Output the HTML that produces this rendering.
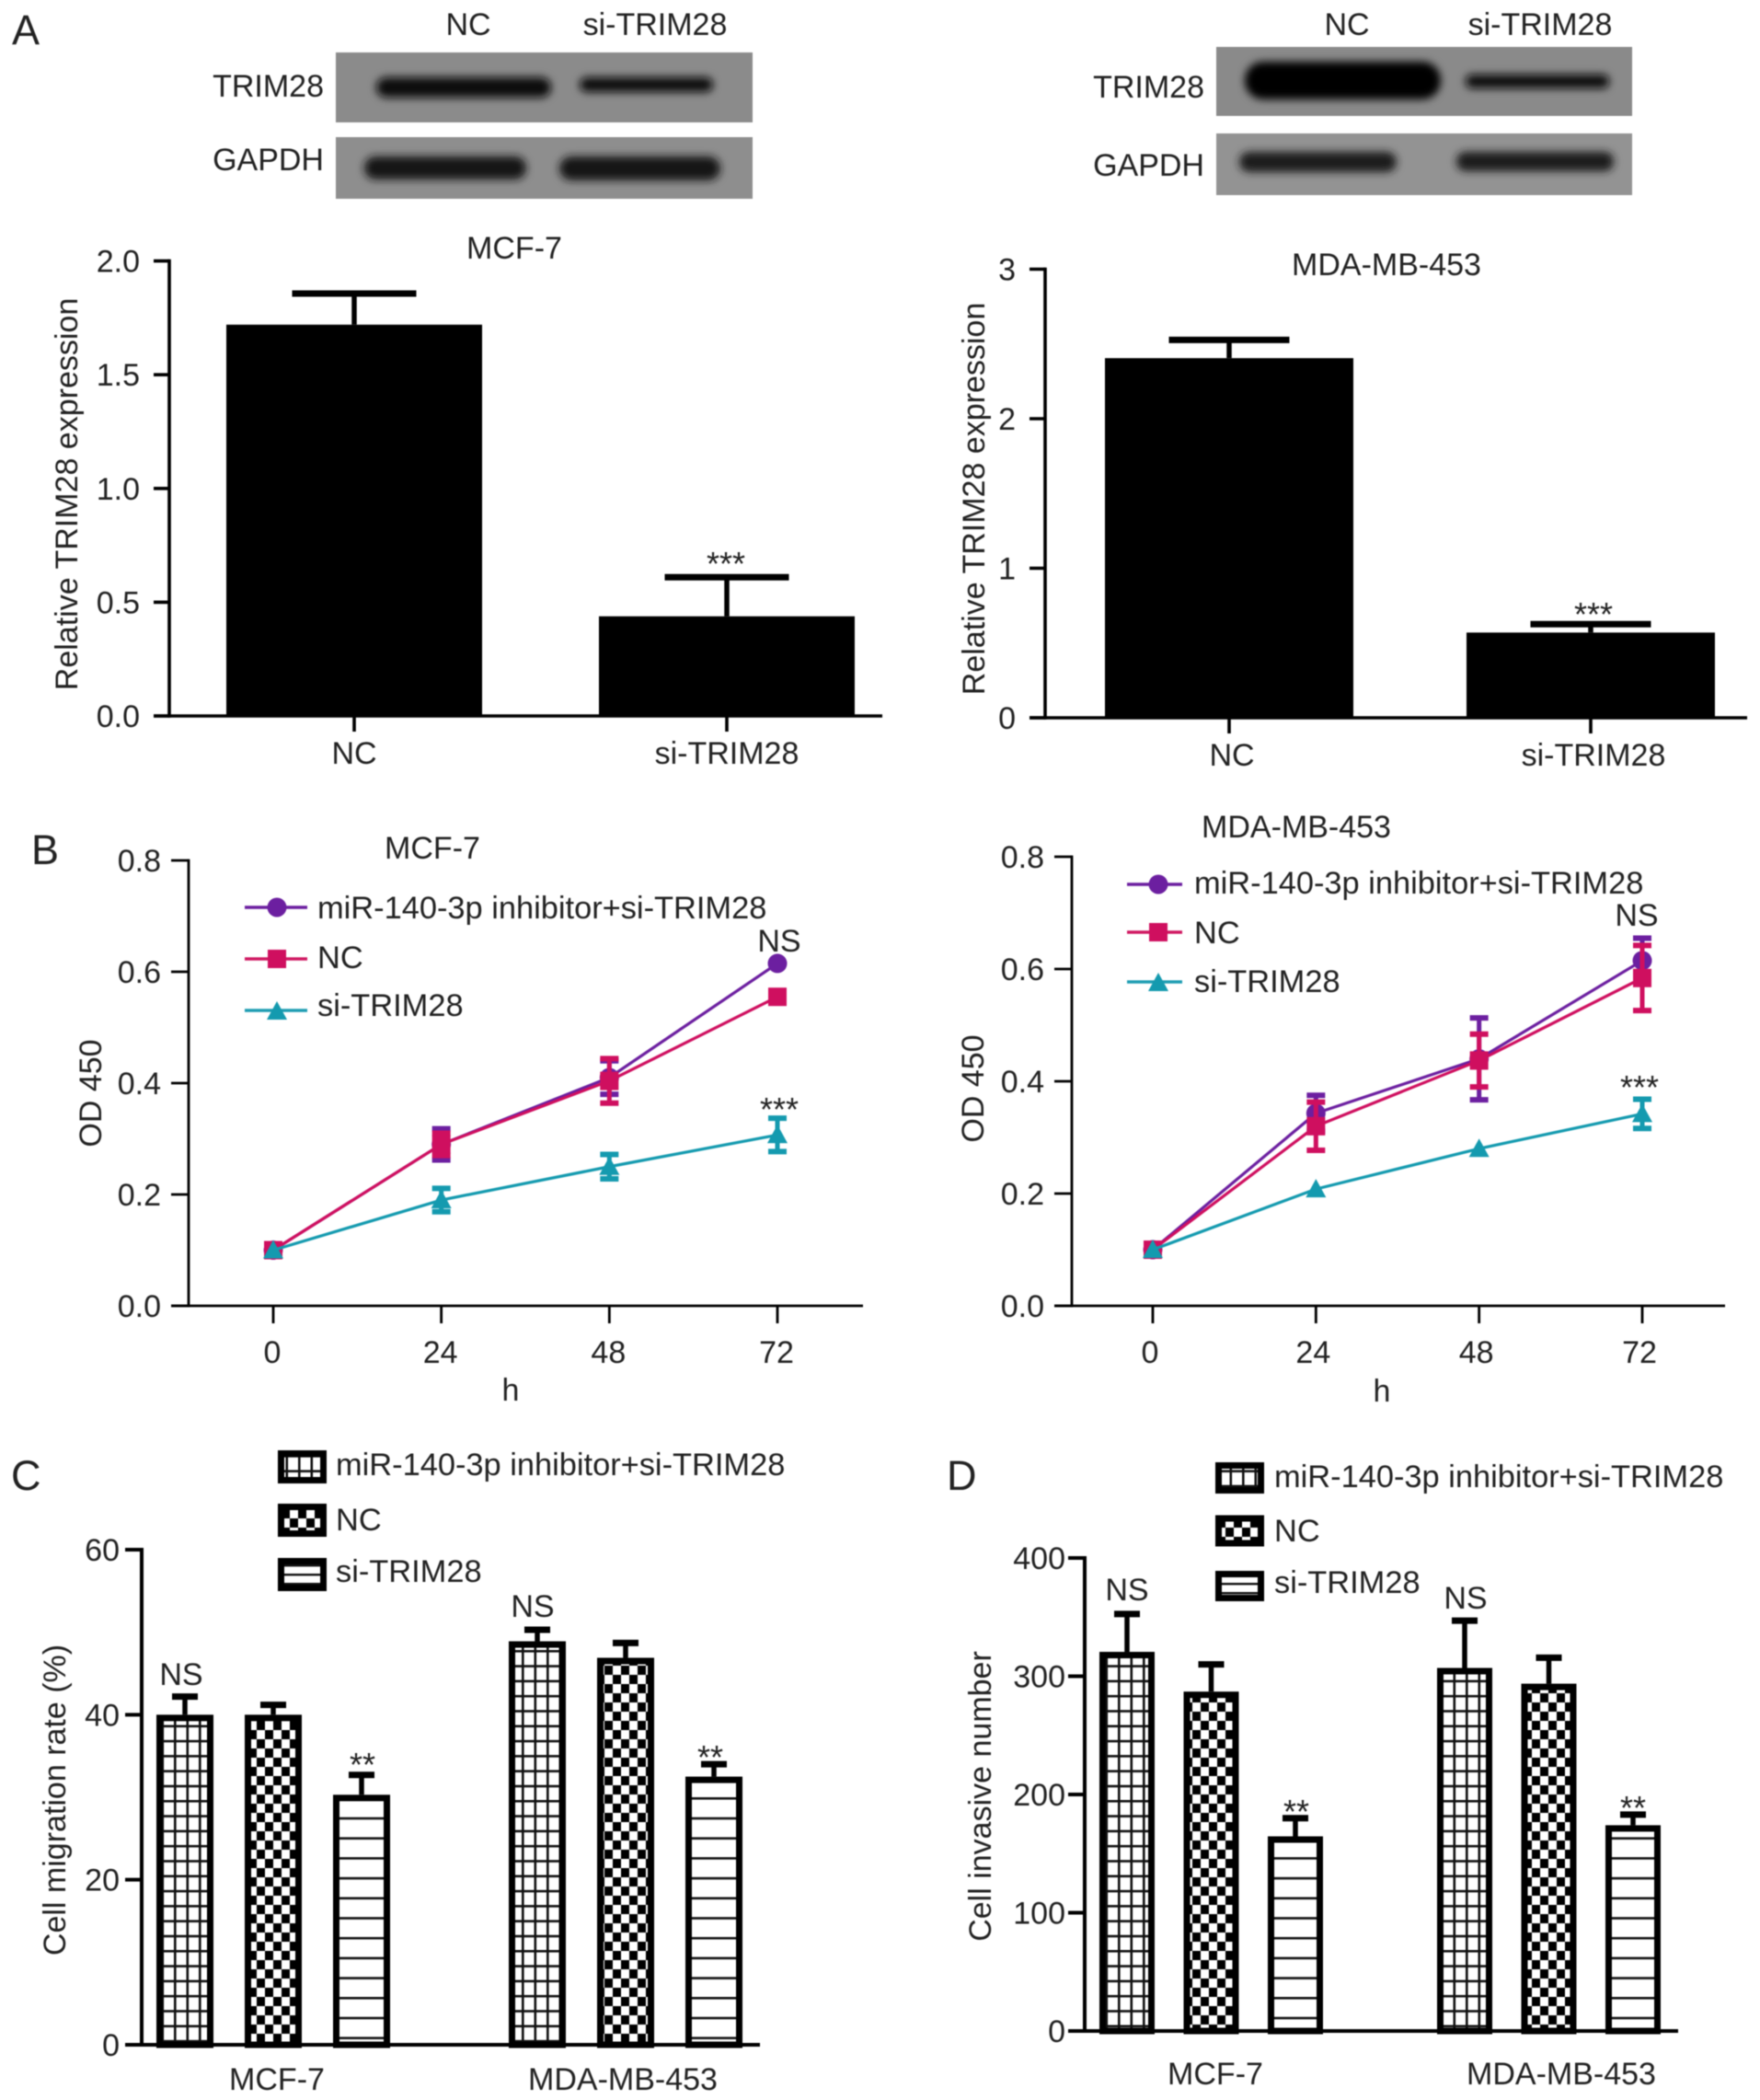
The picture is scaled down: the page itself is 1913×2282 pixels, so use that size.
<!DOCTYPE html>
<html lang="en">
<head>
<meta charset="utf-8">
<title>TRIM28 knockdown figure</title>
<style>
html,body{margin:0;padding:0;background:#fff;}
#figure{display:block;width:1913px;height:2282px;filter:blur(.5px);}
text{font-family:"Liberation Sans",sans-serif;font-size:34px;fill:#222;}
.lt{font-size:45px;}
.lg{font-size:34.4px;}
</style>
</head>
<body>
<svg id="figure" xmlns="http://www.w3.org/2000/svg" width="1913" height="2282" viewBox="0 0 1913 2282">
<defs>
<filter id="bandBlur" x="-20%" y="-80%" width="140%" height="260%"><feGaussianBlur stdDeviation="4.5"/></filter>
<pattern id="hatchGrid" patternUnits="userSpaceOnUse" width="13.5" height="16.3"><rect width="13.5" height="16.3" fill="#fff"/><rect x="0" width="2.6" height="16.3" fill="#111"/><rect y="0" width="13.5" height="2.6" fill="#111"/></pattern>
<pattern id="hatchCheck" patternUnits="userSpaceOnUse" width="18" height="20"><rect width="18" height="20" fill="#fff"/><rect width="9" height="10" fill="#000"/><rect x="9" y="10" width="9" height="10" fill="#000"/></pattern>
<pattern id="hatchLines" patternUnits="userSpaceOnUse" width="20" height="21.7"><rect width="20" height="21.7" fill="#fff"/><rect y="0" width="20" height="2.6" fill="#111"/></pattern>
<pattern id="hatchLinesLegend" patternUnits="userSpaceOnUse" width="20" height="10"><rect width="20" height="10" fill="#fff"/><rect y="0" width="20" height="2.4" fill="#111"/></pattern>
</defs>
<rect width="1913" height="2282" fill="#fff"/>

<!-- Panel letters -->
<text class="lt" x="13" y="48">A</text>
<text class="lt" x="34" y="939">B</text>
<text class="lt" x="12" y="1619">C</text>
<text class="lt" x="1029" y="1619">D</text>

<!-- Western blots -->
<g>
<text x="509" y="38" text-anchor="middle">NC</text>
<text x="712" y="38" text-anchor="middle">si-TRIM28</text>
<text x="352" y="105" text-anchor="end">TRIM28</text>
<text x="352" y="185" text-anchor="end">GAPDH</text>
<rect x="365" y="57" width="453" height="76" fill="#8b8b8b"/>
<rect x="365" y="149" width="453" height="67" fill="#8e8e8e"/>
<rect x="409" y="84" width="190" height="22" rx="11" fill="#080808" filter="url(#bandBlur)"/>
<rect x="630" y="84" width="145" height="16" rx="8" fill="#0a0a0a" filter="url(#bandBlur)"/>
<rect x="396" y="170" width="176" height="25" rx="12" fill="#181818" filter="url(#bandBlur)"/>
<rect x="608" y="170" width="175" height="26" rx="13" fill="#181818" filter="url(#bandBlur)"/>
</g>
<g>
<text x="1464" y="38" text-anchor="middle">NC</text>
<text x="1674" y="38" text-anchor="middle">si-TRIM28</text>
<text x="1309" y="106" text-anchor="end">TRIM28</text>
<text x="1309" y="191" text-anchor="end">GAPDH</text>
<rect x="1322" y="51" width="452" height="75" fill="#8a8a8a"/>
<rect x="1322" y="145" width="452" height="67" fill="#939393"/>
<rect x="1353" y="67" width="213" height="41" rx="20" fill="#050505" filter="url(#bandBlur)"/>
<rect x="1593" y="81" width="156" height="15" rx="7" fill="#101010" filter="url(#bandBlur)"/>
<rect x="1347" y="165" width="171" height="22" rx="11" fill="#1c1c1c" filter="url(#bandBlur)"/>
<rect x="1583" y="165" width="171" height="21" rx="10" fill="#1c1c1c" filter="url(#bandBlur)"/>
</g>

<!-- Panel A static text -->
<text x="559" y="281" text-anchor="middle">MCF-7</text>
<text transform="translate(84 537) rotate(-90)" text-anchor="middle">Relative TRIM28 expression</text>
<text x="789" y="625" text-anchor="middle" style="font-size:36px">***</text>
<text x="1507" y="299" text-anchor="middle">MDA-MB-453</text>
<text transform="translate(1070 542) rotate(-90)" text-anchor="middle">Relative TRIM28 expression</text>
<text x="1732" y="680" text-anchor="middle" style="font-size:36px">***</text>

<!-- Panel B static text -->
<text x="470" y="933" text-anchor="middle">MCF-7</text>
<text transform="translate(110 1188) rotate(-90)" text-anchor="middle">OD 450</text>
<text x="555" y="1522" text-anchor="middle">h</text>
<text x="847" y="1034" text-anchor="middle">NS</text>
<text x="847" y="1218" text-anchor="middle" style="font-size:36px">***</text>
<g transform="translate(-1 -6)">
<line x1="267" x2="335" y1="992" y2="992" stroke="#6c1fa0" stroke-width="3.5"/>
<circle cx="302" cy="992" r="10.5" fill="#6c1fa0"/>
<text class="lg" x="346" y="1004">miR-140-3p inhibitor+si-TRIM28</text>
<line x1="267" x2="335" y1="1048" y2="1048" stroke="#d01a62" stroke-width="3.5"/>
<rect x="292" y="1038" width="20" height="20" fill="#cf0f5f"/>
<text class="lg" x="346" y="1058">NC</text>
<line x1="267" x2="335" y1="1104" y2="1104" stroke="#1f9db3" stroke-width="3.5"/>
<polygon points="302,1094 313,1114 291,1114" fill="#149aaf"/>
<text class="lg" x="346" y="1110">si-TRIM28</text>
</g>

<text x="1409" y="910" text-anchor="middle">MDA-MB-453</text>
<text transform="translate(1069 1183) rotate(-90)" text-anchor="middle">OD 450</text>
<text x="1502" y="1523" text-anchor="middle">h</text>
<text x="1779" y="1006" text-anchor="middle">NS</text>
<text x="1782" y="1194" text-anchor="middle" style="font-size:36px">***</text>
<g transform="translate(-6 -6)">
<line x1="1231" x2="1291" y1="967" y2="967" stroke="#6c1fa0" stroke-width="3.5"/>
<circle cx="1265" cy="967" r="10.5" fill="#6c1fa0"/>
<text class="lg" x="1304" y="977">miR-140-3p inhibitor+si-TRIM28</text>
<line x1="1231" x2="1291" y1="1019" y2="1019" stroke="#d01a62" stroke-width="3.5"/>
<rect x="1255" y="1009" width="20" height="20" fill="#cf0f5f"/>
<text class="lg" x="1304" y="1031">NC</text>
<line x1="1231" x2="1291" y1="1073" y2="1073" stroke="#1f9db3" stroke-width="3.5"/>
<polygon points="1265,1063 1276,1083 1254,1083" fill="#149aaf"/>
<text class="lg" x="1304" y="1084">si-TRIM28</text>
</g>

<!-- Panel C static text -->
<text transform="translate(71 1956) rotate(-90)" text-anchor="middle">Cell migration rate (%)</text>
<text x="197" y="1831" text-anchor="middle">NS</text>
<text x="579" y="1757" text-anchor="middle">NS</text>
<text x="394" y="1930" text-anchor="middle" style="font-size:36px">**</text>
<text x="772" y="1922" text-anchor="middle" style="font-size:36px">**</text>
<g>
<rect x="305.5" y="1579.5" width="46" height="29" fill="url(#hatchGrid)" stroke="#000" stroke-width="7"/>
<text class="lg" x="365" y="1603">miR-140-3p inhibitor+si-TRIM28</text>
<rect x="305.5" y="1637.5" width="46" height="29" fill="url(#hatchCheck)" stroke="#000" stroke-width="7"/>
<text class="lg" x="365" y="1663">NC</text>
<rect x="305.5" y="1696.5" width="46" height="29" fill="url(#hatchLinesLegend)" stroke="#000" stroke-width="7"/>
<text class="lg" x="365" y="1719">si-TRIM28</text>
</g>

<!-- Panel D static text -->
<text transform="translate(1077 1952) rotate(-90)" text-anchor="middle">Cell invasive number</text>
<text x="1225" y="1739" text-anchor="middle">NS</text>
<text x="1593" y="1748" text-anchor="middle">NS</text>
<text x="1409" y="1981" text-anchor="middle" style="font-size:36px">**</text>
<text x="1775" y="1977" text-anchor="middle" style="font-size:36px">**</text>
<g>
<rect x="1324.5" y="1592.5" width="46" height="27" fill="url(#hatchGrid)" stroke="#000" stroke-width="7"/>
<text class="lg" x="1385" y="1616">miR-140-3p inhibitor+si-TRIM28</text>
<rect x="1324.5" y="1650" width="46" height="27" fill="url(#hatchCheck)" stroke="#000" stroke-width="7"/>
<text class="lg" x="1385" y="1675">NC</text>
<rect x="1324.5" y="1710.5" width="46" height="26" fill="url(#hatchLinesLegend)" stroke="#000" stroke-width="7"/>
<text class="lg" x="1385" y="1731">si-TRIM28</text>
</g>
</svg>

<script>
// ---- Panel A data ----
const aCategories = ['NC', 'si-TRIM28'];
const aLeftValues = [1.72, 0.438];
const aLeftErrors = [0.137, 0.172];
const aLeftTicks = ['0.0', '0.5', '1.0', '1.5', '2.0'];
const aRightValues = [2.405, 0.57];
const aRightErrors = [0.122, 0.056];
const aRightTicks = ['0', '1', '2', '3'];

// ---- Panel B data ----
const bHours = [0, 24, 48, 72];
const bTicks = ['0.0', '0.2', '0.4', '0.6', '0.8'];
const bLeftInhibitor = [0.1, 0.29, 0.41, 0.615];
const bLeftInhibitorErr = [0, 0.028, 0.03, 0];
const bLeftNC = [0.1, 0.29, 0.404, 0.555];
const bLeftNCErr = [0, 0.02, 0.04, 0];
const bLeftSi = [0.1, 0.19, 0.25, 0.307];
const bLeftSiErr = [0, 0.021, 0.022, 0.03];
const bRightInhibitor = [0.1, 0.343, 0.44, 0.615];
const bRightInhibitorErr = [0, 0.032, 0.073, 0.04];
const bRightNC = [0.1, 0.32, 0.437, 0.584];
const bRightNCErr = [0, 0.043, 0.047, 0.058];
const bRightSi = [0.1, 0.208, 0.28, 0.342];
const bRightSiErr = [0, 0, 0, 0.026];

// ---- Panel C data ----
const groupCategories = ['MCF-7', 'MDA-MB-453'];
const cTicks = ['0', '20', '40', '60'];
const cInhibitor = [40, 48.9];
const cInhibitorErr = [2.2, 1.4];
const cNC = [40, 46.9];
const cNCErr = [1.2, 1.8];
const cSi = [30.3, 32.5];
const cSiErr = [2.4, 1.5];

// ---- Panel D data ----
const dTicks = ['0', '100', '200', '300', '400'];
const dInhibitor = [320.6, 307];
const dInhibitorErr = [32, 40];
const dNC = [287, 293.7];
const dNCErr = [23, 22];
const dSi = [164.6, 174];
const dSiErr = [15.4, 9];

const SVGNS = 'http://www.w3.org/2000/svg';
const root = document.getElementById('figure');

function mk(tag, attrs, parent) {
  const el = document.createElementNS(SVGNS, tag);
  for (const k in attrs) el.setAttribute(k, attrs[k]);
  (parent || root).appendChild(el);
  return el;
}
function linear(d0, d1, r0, r1) {
  return v => r0 + (v - d0) * (r1 - r0) / (d1 - d0);
}
function drawLine(parent, name, x1, y1, x2, y2, color, width) {
  const l = mk('line', {x1, y1, x2, y2, stroke: color, 'stroke-width': width}, parent);
  
  
  return l;
}
function drawText(parent, name, x, y, str, anchor) {
  const t = mk('text', {x, y, 'text-anchor': anchor}, parent);
  t.textContent = str;
  
  
  return t;
}
function drawAxes(parent, prefix, o) {
  drawLine(parent, prefix + '-y-axis', o.x, o.yTop - o.sw / 2, o.x, o.yBottom + o.sw / 2, '#000', o.sw);
  drawLine(parent, prefix + '-x-axis', o.xFrom, o.yBottom, o.xTo, o.yBottom, '#000', o.sw);
  o.ticks.forEach(label => {
    const y = o.y(parseFloat(label));
    drawLine(parent, prefix + '-y-tick-' + label, o.x - o.tick, y, o.x, y, '#000', o.sw);
    drawText(parent, prefix + '-y-tick-label-' + label, o.x - o.tick - o.pad, y + 12, label, 'end');
  });
}
function drawErrorBar(parent, name, x, yFrom, yTo, capW, color, sw, capH) {
  drawLine(parent, name + '-stem', x, yFrom, x, yTo, color, sw);
  drawLine(parent, name + '-cap', x - capW / 2, yTo, x + capW / 2, yTo, color, capH);
}

// ---- Panel A: solid bars ----
function drawSolidBars(prefix, values, errors, ticks, o) {
  const g = mk('g', {});
  
  
  const y = linear(0, o.max, o.yBottom, o.yTop);
  drawAxes(g, prefix, {x: o.x, yTop: o.yTop, yBottom: o.yBottom, xFrom: o.xFrom, xTo: o.xTo, sw: 3.6, tick: 17, pad: 15, ticks, y});
  const cx = i => o.c0 + i * o.step;
  aCategories.forEach((cat, i) => {
    const r = mk('rect', {x: cx(i) - o.w / 2, y: y(values[i]), width: o.w, height: o.yBottom - y(values[i]), fill: '#000'}, g);
    
    
    drawErrorBar(g, prefix + '-error-' + cat, cx(i), y(values[i]), y(values[i] + errors[i]), o.cap, '#000', 5.5, 7);
    drawLine(g, prefix + '-x-tick-' + cat, cx(i), o.yBottom, cx(i), o.yBottom + 17, '#000', 3.6);
    drawText(g, prefix + '-x-label-' + cat, cx(i) + o.labelDx, o.labelY, cat, 'middle');
  });
}
drawSolidBars('a-left', aLeftValues, aLeftErrors, aLeftTicks, {max: 2, yBottom: 778, yTop: 283.6, x: 184, xFrom: 167, xTo: 959, c0: 385, step: 405, w: 278, cap: 135, labelY: 830, labelDx: 0});
drawSolidBars('a-right', aRightValues, aRightErrors, aRightTicks, {max: 3, yBottom: 780, yTop: 292.5, x: 1136, xFrom: 1119, xTo: 1899, c0: 1336, step: 393, w: 270, cap: 131, labelY: 832, labelDx: 3});

// ---- Panel B: line charts ----
function drawSeries(g, prefix, name, vals, errs, x, y, color, markerType) {
  errs.forEach((e, i) => {
    if (e > 0) {
      const px = x(bHours[i]);
      drawErrorBar(g, prefix + '-' + name + '-error-up-' + bHours[i], px, y(vals[i]), y(vals[i] + e), 20, color, 5, 6);
      drawErrorBar(g, prefix + '-' + name + '-error-down-' + bHours[i], px, y(vals[i]), y(vals[i] - e), 20, color, 5, 6);
    }
  });
  const line = mk('polyline', {points: vals.map((v, i) => x(bHours[i]) + ',' + y(v)).join(' '), fill: 'none', stroke: color, 'stroke-width': 3.2}, g);
  
  
  vals.forEach((v, i) => {
    const px = x(bHours[i]), py = y(v);
    let m;
    if (markerType === 'circle') m = mk('circle', {cx: px, cy: py, r: 10.5, fill: color}, g);
    if (markerType === 'square') m = mk('rect', {x: px - 10, y: py - 10, width: 20, height: 20, fill: color}, g);
    if (markerType === 'triangle') m = mk('polygon', {points: [px + ',' + (py - 11), (px + 11) + ',' + (py + 9), (px - 11) + ',' + (py + 9)].join(' '), fill: color}, g);
    
    
  });
}
function drawLineChart(prefix, series, o) {
  const g = mk('g', {});
  
  
  const y = linear(0, 0.8, o.yBottom, o.yTop);
  const x = linear(0, 72, o.x0, o.x72);
  drawAxes(g, prefix, {x: o.x, yTop: o.yTop, yBottom: o.yBottom, xFrom: o.xFrom, xTo: o.xTo, sw: 2.8, tick: 19, pad: 11, ticks: bTicks, y});
  bHours.forEach(h => {
    drawLine(g, prefix + '-x-tick-' + h, x(h), o.yBottom, x(h), o.yBottom + 19, '#000', 2.8);
    drawText(g, prefix + '-x-label-' + h, x(h) + o.labelDx, o.labelY, String(h), 'middle');
  });
  drawSeries(g, prefix, 'inhibitor', series[0], series[1], x, y, '#6c1fa0', 'circle');
  drawSeries(g, prefix, 'nc', series[2], series[3], x, y, '#cf0f5f', 'square');
  drawSeries(g, prefix, 'si', series[4], series[5], x, y, '#149aaf', 'triangle');
}
drawLineChart('b-left', [bLeftInhibitor, bLeftInhibitorErr, bLeftNC, bLeftNCErr, bLeftSi, bLeftSiErr], {yBottom: 1419, yTop: 935, x: 205, xFrom: 186, xTo: 938, x0: 297, x72: 845, labelY: 1481, labelDx: -1});
drawLineChart('b-right', [bRightInhibitor, bRightInhibitorErr, bRightNC, bRightNCErr, bRightSi, bRightSiErr], {yBottom: 1419, yTop: 931, x: 1165, xFrom: 1146, xTo: 1875, x0: 1253, x72: 1785, labelY: 1481, labelDx: -3});

// ---- Panels C and D: hatched grouped bars ----
function drawGrouped(prefix, series, ticks, o) {
  const g = mk('g', {});
  
  
  const y = linear(0, o.max, o.yBottom, o.yTop);
  const hatch = ['hatchGrid', 'hatchCheck', 'hatchLines'];
  const names = ['inhibitor', 'nc', 'si'];
  series.forEach((s, si) => {
    groupCategories.forEach((cat, gi) => {
      const px = o.left + gi * o.groupStep + si * o.barStep;
      const v = s.values[gi];
      const e = s.errors[gi];
      drawErrorBar(g, prefix + '-error-' + names[si] + '-' + cat, px + o.w / 2, y(v), y(v + e), 28, '#000', 5.5, 7);
      const r = mk('rect', {x: px + 3.5, y: y(v) + 3.5, width: o.w - 7, height: o.yBottom - y(v) - 3.5, fill: 'url(#' + hatch[si] + ')', stroke: '#000', 'stroke-width': 7}, g);
      
      
    });
  });
  drawAxes(g, prefix, {x: o.x, yTop: o.yTop, yBottom: o.yBottom, xFrom: o.xFrom, xTo: o.xTo, sw: 4, tick: 18, pad: o.pad, ticks, y});
  groupCategories.forEach((cat, gi) => {
    drawText(g, prefix + '-x-label-' + cat, o.labelX0 + gi * o.labelStep, o.labelY, cat, 'middle');
  });
}
drawGrouped('c', [
  {values: cInhibitor, errors: cInhibitorErr},
  {values: cNC, errors: cNCErr},
  {values: cSi, errors: cSiErr}
], cTicks, {max: 60, yBottom: 2222, yTop: 1684, x: 154, xFrom: 142, xTo: 826, left: 170, barStep: 96, groupStep: 383, w: 62, pad: 6, labelX0: 301, labelStep: 376, labelY: 2271});
drawGrouped('d', [
  {values: dInhibitor, errors: dInhibitorErr},
  {values: dNC, errors: dNCErr},
  {values: dSi, errors: dSiErr}
], dTicks, {max: 400, yBottom: 2207, yTop: 1693, x: 1179, xFrom: 1167, xTo: 1824, left: 1195, barStep: 91.5, groupStep: 367, w: 60, pad: 3, labelX0: 1321, labelStep: 376, labelY: 2265});
</script>
</body>
</html>
